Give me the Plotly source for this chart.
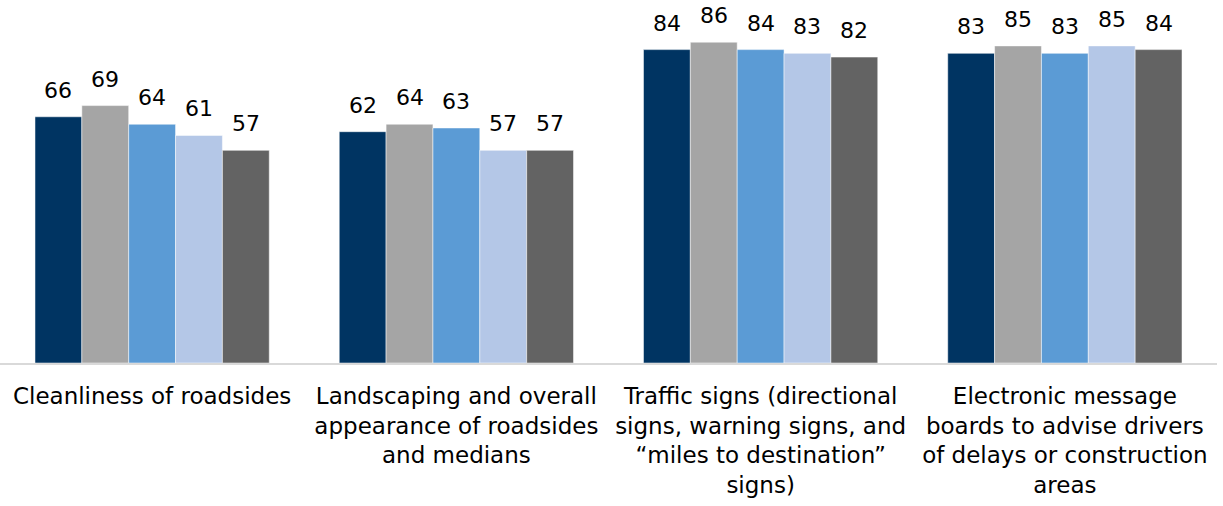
import plotly.graph_objects as go

categories = [
    "Cleanliness of roadsides",
    "Landscaping and overall<br>appearance of roadsides<br>and medians",
    "Traffic signs (directional<br>signs, warning signs, and<br>\u201cmiles to destination\u201d<br>signs)",
    "Electronic message<br>boards to advise drivers<br>of delays or construction<br>areas",
]

series_names = ["Survey 1", "Survey 2", "Survey 3", "Survey 4", "Survey 5"]
series_values = [
    [66, 62, 84, 83],
    [69, 64, 86, 85],
    [64, 63, 84, 83],
    [61, 57, 83, 85],
    [57, 57, 82, 84],
]
series_colors = ["#003462", "#A5A5A5", "#5B9BD5", "#B4C7E7", "#636363"]

FONT = "DejaVu Sans"
BARGAP = 0.23
n_series = len(series_values)
bar_w = (1 - BARGAP) / n_series

fig = go.Figure()
for name, vals, color in zip(series_names, series_values, series_colors):
    fig.add_trace(go.Bar(
        x=categories,
        y=vals,
        name=name,
        marker=dict(color=color, line=dict(color="white", width=0.5)),
        hoverinfo="x+y",
    ))

# value labels sit a little above each bar
for j, vals in enumerate(series_values):
    for i, v in enumerate(vals):
        fig.add_annotation(
            x=i + (j - (n_series - 1) / 2) * bar_w,
            y=v,
            xref="x",
            yref="y",
            text=str(v),
            showarrow=False,
            yanchor="bottom",
            yshift=12,
            font=dict(family=FONT, size=22, color="black"),
        )

fig.update_layout(
    width=1223,
    height=506,
    barmode="group",
    bargap=BARGAP,
    bargroupgap=0,
    showlegend=False,
    plot_bgcolor="white",
    paper_bgcolor="white",
    margin=dict(l=0, r=6, t=0, b=143),
    font=dict(family=FONT, size=22, color="black"),
)
fig.update_xaxes(
    showline=True,
    linecolor="#D9D9D9",
    linewidth=2,
    ticks="",
    ticklabelstandoff=11,
    tickfont=dict(family=FONT, size=23, color="black"),
    tickangle=0,
)
fig.update_yaxes(
    range=[0, 97.3],
    visible=False,
    showgrid=False,
)

fig.write_html("out.html")
